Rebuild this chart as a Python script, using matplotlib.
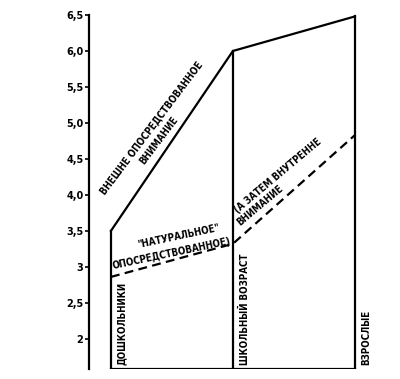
import numpy as np
import matplotlib
matplotlib.use('Agg')
import matplotlib.pyplot as plt

plt.rcParams['font.family'] = ['DejaVu Sans']

# stages along x, two kinds of attention on y
stages = ['ДОШКОЛЬНИКИ', 'ШКОЛЬНЫЙ ВОЗРАСТ', 'ВЗРОСЛЫЕ']
external = [3.5, 6.0, 6.48]      # solid line
natural = [2.86, 3.32, 4.83]     # dashed line
yticks = [2, 2.5, 3, 3.5, 4.0, 4.5, 5.0, 5.5, 6.0, 6.5]
ytick_labels = ['2', '2,5', '3', '3,5', '4,0', '4,5', '5,0', '5,5', '6,0', '6,5']

x = np.arange(len(stages))
ybase = 1.58

fig = plt.figure(figsize=(4.0, 3.79), dpi=100)
ax = fig.add_axes([0.2225, 0.0264, 0.7775, 0.953])
ax.set_xlim(-0.18, 2.37)
ax.set_ylim(ybase, 6.6)

# outline
ax.plot(x, external, c='k', lw=1.6, solid_joinstyle='miter')
for xi, yi in zip(x, external):
    ax.plot([xi, xi], [ybase, yi], c='k', lw=1.6)
ax.plot([x[0], x[-1]], [ybase, ybase], c='k', lw=1.6)
ax.plot(x, natural, c='k', lw=1.6, ls=(0, (4, 2.4)))

# axis
for s in ['top', 'right', 'bottom']:
    ax.spines[s].set_visible(False)
ax.spines['left'].set_bounds(ybase, 6.5)
ax.spines['left'].set_linewidth(1.6)
ax.set_xticks([])
ax.set_yticks(yticks)
ax.set_yticklabels(ytick_labels, fontweight='bold', fontsize=7)
ax.tick_params(axis='y', length=3, width=1.2, pad=1)

tk = dict(fontsize=7, fontweight='semibold', fontstretch='condensed', rotation_mode='anchor')

# stage labels
for xi, lab, dx in zip(x, stages, [0.09, 0.10, 0.09]):
    ax.text(xi + dx, 1.64, lab, rotation=90, ha='left', va='center', **tk)

# curve labels
ax.text(0.33, 4.93, 'ВНЕШНЕ ОПОСРЕДСТВОВАННОЕ', rotation=53, ha='center', va='center', **tk)
ax.text(0.39, 4.75, 'ВНИМАНИЕ', rotation=53, ha='center', va='center', **tk)
ax.text(0.55, 3.43, '"НАТУРАЛЬНОЕ"', rotation=12, ha='center', va='center', **tk)
ax.text(0.50, 3.18, 'ОПОСРЕДСТВОВАННОЕ)', rotation=12, ha='center', va='center', **tk)
ax.text(1.04, 3.74, '(А ЗАТЕМ ВНУТРЕННЕ', rotation=40, ha='left', va='baseline', **tk)
ax.text(1.06, 3.57, 'ВНИМАНИЕ', rotation=40, ha='left', va='baseline', **tk)

plt.savefig('out.png', dpi=100)
